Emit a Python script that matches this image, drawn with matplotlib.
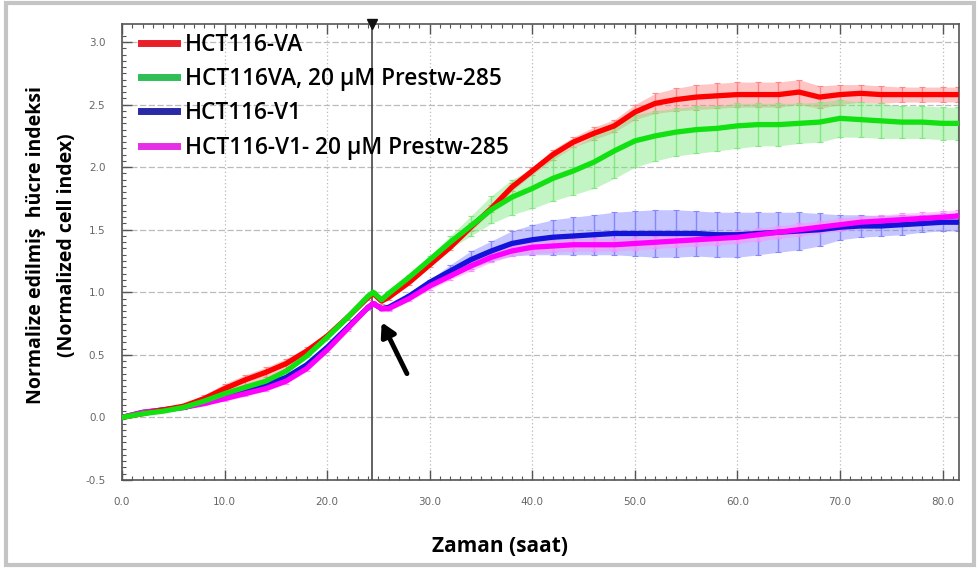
import matplotlib
matplotlib.use("Agg")
import matplotlib.pyplot as plt
from matplotlib.lines import Line2D
from matplotlib.patches import Rectangle
import numpy as np

# ---- data ----
time_h = [0, 2, 4, 6, 8, 10, 12, 14, 16, 18, 20, 22, 24, 24.5, 25.3, 26, 28, 30,
          32, 34, 36, 38, 40, 42, 44, 46, 48, 50, 52, 54, 56, 58, 60, 62, 64, 66,
          68, 70, 72, 74, 76, 78, 80, 81.5]

red_mean = [0.00, 0.03, 0.06, 0.09, 0.15, 0.23, 0.30, 0.36, 0.43, 0.53, 0.65, 0.80,
            0.96, 0.99, 0.93, 0.96, 1.08, 1.22, 1.36, 1.52, 1.67, 1.84, 1.97, 2.10,
            2.20, 2.27, 2.33, 2.44, 2.51, 2.54, 2.56, 2.57, 2.58, 2.58, 2.58, 2.60,
            2.56, 2.58, 2.59, 2.58, 2.58, 2.58, 2.58, 2.58]
red_err = [0.01, 0.01, 0.01, 0.02, 0.03, 0.04, 0.04, 0.04, 0.04, 0.03, 0.02, 0.02,
           0.02, 0.02, 0.02, 0.02, 0.02, 0.02, 0.02, 0.03, 0.03, 0.03, 0.03, 0.04,
           0.04, 0.05, 0.05, 0.06, 0.08, 0.09, 0.10, 0.10, 0.10, 0.10, 0.10, 0.10,
           0.09, 0.08, 0.07, 0.07, 0.06, 0.06, 0.06, 0.06]

green_mean = [0.00, 0.03, 0.05, 0.08, 0.13, 0.19, 0.24, 0.29, 0.37, 0.49, 0.64, 0.80,
              0.97, 1.00, 0.94, 0.99, 1.12, 1.26, 1.40, 1.53, 1.66, 1.76, 1.83, 1.91,
              1.97, 2.04, 2.13, 2.21, 2.25, 2.28, 2.30, 2.31, 2.33, 2.34, 2.34, 2.35,
              2.36, 2.39, 2.38, 2.37, 2.36, 2.36, 2.35, 2.35]
green_err = [0.01, 0.01, 0.01, 0.01, 0.01, 0.01, 0.01, 0.01, 0.01, 0.01, 0.01, 0.01,
             0.01, 0.01, 0.01, 0.02, 0.02, 0.03, 0.05, 0.08, 0.11, 0.14, 0.16, 0.18,
             0.19, 0.21, 0.22, 0.21, 0.20, 0.19, 0.19, 0.18, 0.18, 0.17, 0.17, 0.16,
             0.16, 0.15, 0.14, 0.14, 0.13, 0.13, 0.13, 0.13]

blue_mean = [0.00, 0.04, 0.06, 0.08, 0.12, 0.17, 0.21, 0.26, 0.32, 0.42, 0.56, 0.72,
             0.88, 0.91, 0.87, 0.88, 0.97, 1.08, 1.17, 1.26, 1.33, 1.39, 1.42, 1.44,
             1.45, 1.46, 1.47, 1.47, 1.47, 1.47, 1.47, 1.46, 1.46, 1.47, 1.48, 1.49,
             1.50, 1.52, 1.53, 1.53, 1.54, 1.55, 1.56, 1.56]
blue_err = [0.01, 0.01, 0.01, 0.01, 0.01, 0.01, 0.01, 0.01, 0.01, 0.01, 0.01, 0.01,
            0.01, 0.01, 0.01, 0.02, 0.02, 0.02, 0.05, 0.07, 0.08, 0.10, 0.12, 0.14,
            0.15, 0.16, 0.17, 0.18, 0.19, 0.19, 0.18, 0.18, 0.18, 0.17, 0.16, 0.15,
            0.13, 0.10, 0.09, 0.08, 0.08, 0.07, 0.07, 0.07]

magenta_mean = [0.00, 0.04, 0.06, 0.08, 0.11, 0.15, 0.19, 0.23, 0.29, 0.39, 0.54, 0.71,
                0.88, 0.91, 0.87, 0.87, 0.95, 1.05, 1.13, 1.21, 1.28, 1.33, 1.36, 1.37,
                1.38, 1.38, 1.38, 1.39, 1.40, 1.41, 1.42, 1.43, 1.44, 1.46, 1.48, 1.50,
                1.52, 1.54, 1.56, 1.57, 1.58, 1.59, 1.60, 1.61]
magenta_err = [0.01, 0.01, 0.01, 0.01, 0.01, 0.02, 0.02, 0.02, 0.02, 0.02, 0.02, 0.02,
               0.02, 0.02, 0.02, 0.02, 0.02, 0.03, 0.03, 0.04, 0.04, 0.04, 0.05, 0.05,
               0.05, 0.05, 0.05, 0.05, 0.05, 0.05, 0.05, 0.05, 0.05, 0.05, 0.05, 0.05,
               0.05, 0.05, 0.05, 0.05, 0.05, 0.05, 0.05, 0.05]

series_labels = ["HCT116-VA", "HCT116VA, 20 \u00b5M Prestw-285", "HCT116-V1",
                 "HCT116-V1- 20 \u00b5M Prestw-285"]
x_ticks = [0, 10, 20, 30, 40, 50, 60, 70, 80]
y_ticks = [-0.5, 0.0, 0.5, 1.0, 1.5, 2.0, 2.5, 3.0]
treatment_time = 24.4

# ---- figure ----
fig = plt.figure(figsize=(9.77, 5.69), dpi=100)
ax = fig.add_axes([122 / 977, 1 - 480 / 569, 837 / 977, 456 / 569])

series = [
    (blue_mean, blue_err, "#1414d8", "#8080ff", "#2a2aa8"),
    (magenta_mean, magenta_err, "#ff00ff", "#ff88ff", "#e62ee6"),
    (red_mean, red_err, "#ff0000", "#ff8080", "#e8202a"),
    (green_mean, green_err, "#11e011", "#7ae87a", "#2fbf55"),
]
t = np.array(time_h)
for mean, err, c, ce, _ in series:
    m = np.array(mean)
    e = np.array(err)
    ax.fill_between(t, m - e, m + e, color=ce, alpha=0.45, lw=0, zorder=2)
    ax.errorbar(t, m, yerr=e, fmt="none", ecolor=ce, elinewidth=1.0,
                capsize=2, capthick=0.8, alpha=0.9, zorder=2)
for mean, err, c, ce, _ in series:
    ax.plot(t, mean, color=c, lw=3.8, zorder=3, solid_capstyle="round")

ax.set_xlim(0, 81.6)
ax.set_ylim(-0.5, 3.144)
ax.set_xticks(x_ticks)
ax.set_xticklabels([f"{v:.1f}" for v in x_ticks])
ax.set_yticks(y_ticks)
ax.set_yticklabels([f"{v:.1f}" for v in y_ticks])
ax.set_xticks(np.arange(0, 82, 1), minor=True)
ax.set_yticks(np.arange(-0.5, 3.1, 0.05), minor=True)
ax.tick_params(axis="both", which="major", direction="in", length=7, width=1,
               colors="#555555", labelsize=7.5, labelcolor="#666666",
               top=True, pad=12)
ax.tick_params(axis="both", which="minor", direction="in", length=3, width=0.8,
               colors="#555555", top=True)
ax.tick_params(axis="y", which="both", right=False)
for s in ax.spines.values():
    s.set_color("#555555")
    s.set_linewidth(1.2)

ax.grid(True, which="major", axis="y", color="#bbbbbb", lw=0.9,
        linestyle=(0, (5, 2)), zorder=0)
ax.grid(True, which="major", axis="x", color="#bbbbbb", lw=0.9,
        linestyle=(0, (1, 2)), zorder=0)
ax.set_axisbelow(True)

ax.axvline(treatment_time, color="#555555", lw=1.3, zorder=1)
ax.plot([treatment_time], [3.144], marker="v", color="#111111", ms=7,
        clip_on=False, zorder=5)

ax.annotate("", xy=(25.2, 0.78), xytext=(27.9, 0.33),
            arrowprops=dict(arrowstyle="-|>,head_width=0.45,head_length=0.8",
                            color="black", lw=3.5), zorder=6)

handles = [Line2D([0], [0], color=s[4], lw=5) for s in (series[2], series[3], series[0], series[1])]
leg = ax.legend(handles, series_labels, loc="upper left", frameon=False,
                bbox_to_anchor=(-0.002, 1.025), handlelength=1.6, handletextpad=0.35,
                labelspacing=0.45,
                prop={"family": "Open Sans", "size": 16.3, "weight": "semibold"})

fig.text(500 / 977, 1 - 546 / 569, "Zaman (saat)", ha="center", va="center",
         fontsize=15, fontweight="bold", family="Open Sans")
fig.text(36 / 977, 1 - 245 / 569, "Normalize edilmi\u015f  h\u00fccre indeksi",
         rotation=90, ha="center", va="center", fontsize=14, fontweight="bold",
         family="Open Sans")
fig.text(67 / 977, 1 - 245 / 569, "(Normalized cell index)", rotation=90,
         ha="center", va="center", fontsize=14, fontweight="bold",
         family="Open Sans")

fig.patches.append(Rectangle((6 / 977, 4 / 569), 968 / 977, 562 / 569,
                             transform=fig.transFigure, fill=False,
                             edgecolor="#c4c4c4", lw=3))

fig.savefig("out.png", dpi=100)
